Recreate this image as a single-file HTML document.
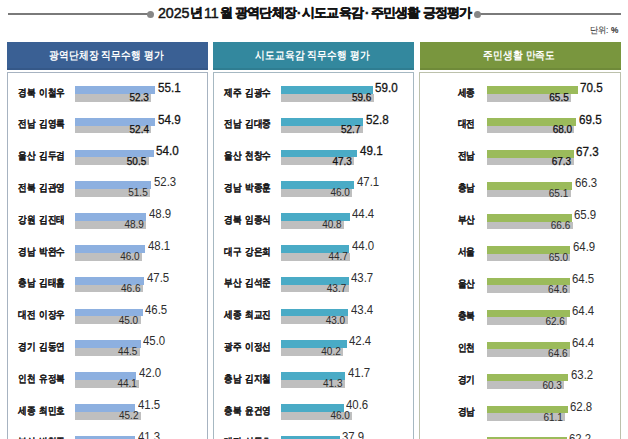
<!DOCTYPE html><html><head><meta charset="utf-8"><style>
*{margin:0;padding:0;box-sizing:border-box}
html,body{width:628px;height:439px;overflow:hidden;background:#fff}
body{position:relative;font-family:"Liberation Sans",sans-serif;color:#222}
.a{position:absolute;white-space:nowrap}
.ln{position:absolute;height:2px;background:#7A7A7A}
.dot{position:absolute;width:7.2px;height:7.2px;border-radius:50%;background:#878787}
.tt{position:absolute;white-space:nowrap;font-weight:bold;color:#141414}
.unit{position:absolute;font-size:9px;line-height:10px;color:#444;letter-spacing:-0.2px;white-space:nowrap}
.hd{position:absolute;top:41.8px;height:27.8px;box-shadow:inset 0 -2px 0 rgba(0,0,0,0.08);color:#fff;font-weight:bold;line-height:27px;text-align:center;white-space:nowrap}
.box{position:absolute;top:71.9px;height:400px;border-style:solid;background:#fff}
.b1,.b2{position:absolute}
.b2{background:#BFBFBF}
.lab{position:absolute;font-weight:bold;color:#1a1a1a;white-space:nowrap}
.v1{position:absolute;white-space:nowrap}
.v2{position:absolute;white-space:nowrap;text-align:right}
</style></head><body>
<div class="ln" style="left:8px;top:13px;width:143px"></div>
<div class="ln" style="left:478px;top:13px;width:142.5px"></div>
<div class="dot" style="left:147px;top:10.7px"></div>
<div class="dot" style="left:474.2px;top:10.7px"></div>
<div class="tt" style="left:158px;top:5.1px;font-size:15.5px;line-height:15.5px;letter-spacing:-0.1px;font-weight:normal;transform:scaleX(0.92);transform-origin:left;-webkit-text-stroke:0.5px #141414">2025</div>
<div class="tt" style="left:190px;top:6px;font-size:13px;line-height:13px;letter-spacing:0px;font-weight:bold;transform:scaleX(1);transform-origin:left;-webkit-text-stroke:0.45px #141414">년</div>
<div class="tt" style="left:204px;top:5.1px;font-size:15.5px;line-height:15.5px;letter-spacing:-0.1px;font-weight:normal;transform:scaleX(0.92);transform-origin:left;-webkit-text-stroke:0.5px #141414">11</div>
<div class="tt" style="left:219.5px;top:6px;font-size:13px;line-height:13px;letter-spacing:0px;font-weight:bold;transform:scaleX(1);transform-origin:left;-webkit-text-stroke:0.45px #141414">월</div>
<div class="tt" style="left:235px;top:6px;font-size:13px;line-height:13px;letter-spacing:-0.8px;font-weight:bold;transform:scaleX(1);transform-origin:left;-webkit-text-stroke:0.45px #141414">광역단체장</div>
<div class="tt" style="left:297px;top:6px;font-size:13px;line-height:13px;letter-spacing:0px;font-weight:bold;transform:scaleX(1);transform-origin:left;-webkit-text-stroke:0.45px #141414">·</div>
<div class="tt" style="left:302px;top:6px;font-size:13px;line-height:13px;letter-spacing:-0.8px;font-weight:bold;transform:scaleX(1);transform-origin:left;-webkit-text-stroke:0.45px #141414">시도교육감</div>
<div class="tt" style="left:365px;top:6px;font-size:13px;line-height:13px;letter-spacing:0px;font-weight:bold;transform:scaleX(1);transform-origin:left;-webkit-text-stroke:0.45px #141414">·</div>
<div class="tt" style="left:370.5px;top:6px;font-size:13px;line-height:13px;letter-spacing:-0.8px;font-weight:bold;transform:scaleX(1);transform-origin:left;-webkit-text-stroke:0.45px #141414">주민생활</div>
<div class="tt" style="left:422.5px;top:6px;font-size:13px;line-height:13px;letter-spacing:-0.8px;font-weight:bold;transform:scaleX(1);transform-origin:left;-webkit-text-stroke:0.45px #141414">긍정평가</div>
<div class="unit" style="left:590px;top:25.3px;font-size:9px;letter-spacing:-0.3px;color:#3a3a3a;-webkit-text-stroke:0.1px #3a3a3a;transform:scaleX(0.92);transform-origin:left;word-spacing:1.0px">단위: <b>%</b></div>
<div class="hd" style="left:7px;width:200.6px;background:#3A6094;font-size:10.5px;letter-spacing:0.3px;padding-right:2.6px;line-height:26px"><span style="display:inline-block;transform:scaleX(0.88);-webkit-text-stroke:0px #fff">광역단체장 직무수행 평가</span></div>
<div class="box" style="left:6.6px;width:201.4px;border-width:1.7px;border-color:#A7B3C1"></div>
<div class="hd" style="left:213.3px;width:200.7px;background:#33889E;font-size:10.5px;letter-spacing:0.3px;padding-right:2.6px;line-height:26px"><span style="display:inline-block;transform:scaleX(0.88);-webkit-text-stroke:0px #fff">시도교육감 직무수행 평가</span></div>
<div class="box" style="left:212.9px;width:201.5px;border-width:1.7px;border-color:#A6B8C2"></div>
<div class="hd" style="left:419.5px;width:201px;background:#79963E;font-size:10.5px;letter-spacing:0.3px;padding-right:2.6px;line-height:26px"><span style="display:inline-block;transform:scaleX(0.88);-webkit-text-stroke:0px #fff">주민생활 만족도</span></div>
<div class="box" style="left:419.1px;width:201.8px;border-width:1.7px;border-color:#BCC1AC"></div>
<div class="b1" style="left:75px;top:86px;width:80.38px;height:7.75px;background:#8DB0E0"></div>
<div class="b2" style="left:75px;top:93.75px;width:76.27px;height:7.75px"></div>
<div class="lab" style="left:18px;top:87.5px;font-size:9.6px;line-height:9.6px;letter-spacing:0.0px;word-spacing:2.0px;transform:scaleX(0.86);-webkit-text-stroke:0.1px #1a1a1a;transform-origin:left">경북 이철우</div>
<div class="v1" style="left:157.98px;top:81.8px;font-size:12px;line-height:12px;color:#151515;-webkit-text-stroke:0.3px #151515;letter-spacing:0px;transform:scaleX(0.97);transform-origin:left">55.1</div>
<div class="v2" style="right:479.13px;top:93px;font-size:10px;line-height:10px;color:#111;-webkit-text-stroke:0.25px #111;letter-spacing:0px;transform:scaleX(1.0);transform-origin:right">52.3</div>
<div class="b1" style="left:75px;top:117.8px;width:80.09px;height:7.75px;background:#8DB0E0"></div>
<div class="b2" style="left:75px;top:125.55px;width:76.42px;height:7.75px"></div>
<div class="lab" style="left:18px;top:119.3px;font-size:9.6px;line-height:9.6px;letter-spacing:0.0px;word-spacing:2.0px;transform:scaleX(0.86);-webkit-text-stroke:0.1px #1a1a1a;transform-origin:left">전남 김영록</div>
<div class="v1" style="left:157.69px;top:113.6px;font-size:12px;line-height:12px;color:#151515;-webkit-text-stroke:0.3px #151515;letter-spacing:0px;transform:scaleX(0.97);transform-origin:left">54.9</div>
<div class="v2" style="right:478.98px;top:124.8px;font-size:10px;line-height:10px;color:#111;-webkit-text-stroke:0.25px #111;letter-spacing:0px;transform:scaleX(1.0);transform-origin:right">52.4</div>
<div class="b1" style="left:75px;top:149.6px;width:78.77px;height:7.75px;background:#8DB0E0"></div>
<div class="b2" style="left:75px;top:157.35px;width:73.63px;height:7.75px"></div>
<div class="lab" style="left:18px;top:151.1px;font-size:9.6px;line-height:9.6px;letter-spacing:0.0px;word-spacing:2.0px;transform:scaleX(0.86);-webkit-text-stroke:0.1px #1a1a1a;transform-origin:left">울산 김두겸</div>
<div class="v1" style="left:156.37px;top:145.4px;font-size:12px;line-height:12px;color:#151515;-webkit-text-stroke:0.3px #151515;letter-spacing:0px;transform:scaleX(0.97);transform-origin:left">54.0</div>
<div class="v2" style="right:481.77px;top:156.6px;font-size:10px;line-height:10px;color:#111;-webkit-text-stroke:0.25px #111;letter-spacing:0px;transform:scaleX(1.0);transform-origin:right">50.5</div>
<div class="b1" style="left:75px;top:181.4px;width:76.27px;height:7.75px;background:#8DB0E0"></div>
<div class="b2" style="left:75px;top:189.15px;width:75.1px;height:7.75px"></div>
<div class="lab" style="left:18px;top:182.9px;font-size:9.6px;line-height:9.6px;letter-spacing:0.0px;word-spacing:2.0px;transform:scaleX(0.86);-webkit-text-stroke:0.1px #1a1a1a;transform-origin:left">전북 김관영</div>
<div class="v1" style="left:153.87px;top:176.4px;font-size:12px;line-height:12px;color:#2e2e2e;-webkit-text-stroke:0px #2e2e2e;letter-spacing:0px;transform:scaleX(0.95);transform-origin:left">52.3</div>
<div class="v2" style="right:480.3px;top:188.4px;font-size:10px;line-height:10px;color:#2c2c2c;-webkit-text-stroke:0px #2c2c2c;letter-spacing:0px;transform:scaleX(1.0);transform-origin:right">51.5</div>
<div class="b1" style="left:75px;top:213.2px;width:71.28px;height:7.75px;background:#8DB0E0"></div>
<div class="b2" style="left:75px;top:220.95px;width:71.28px;height:7.75px"></div>
<div class="lab" style="left:18px;top:214.7px;font-size:9.6px;line-height:9.6px;letter-spacing:0.0px;word-spacing:2.0px;transform:scaleX(0.86);-webkit-text-stroke:0.1px #1a1a1a;transform-origin:left">강원 김진태</div>
<div class="v1" style="left:148.88px;top:208.2px;font-size:12px;line-height:12px;color:#2e2e2e;-webkit-text-stroke:0px #2e2e2e;letter-spacing:0px;transform:scaleX(0.95);transform-origin:left">48.9</div>
<div class="v2" style="right:484.12px;top:220.2px;font-size:10px;line-height:10px;color:#2c2c2c;-webkit-text-stroke:0px #2c2c2c;letter-spacing:0px;transform:scaleX(1.0);transform-origin:right">48.9</div>
<div class="b1" style="left:75px;top:245px;width:70.11px;height:7.75px;background:#8DB0E0"></div>
<div class="b2" style="left:75px;top:252.75px;width:67.02px;height:7.75px"></div>
<div class="lab" style="left:18px;top:246.5px;font-size:9.6px;line-height:9.6px;letter-spacing:0.0px;word-spacing:2.0px;transform:scaleX(0.86);-webkit-text-stroke:0.1px #1a1a1a;transform-origin:left">경남 박완수</div>
<div class="v1" style="left:147.71px;top:240px;font-size:12px;line-height:12px;color:#2e2e2e;-webkit-text-stroke:0px #2e2e2e;letter-spacing:0px;transform:scaleX(0.95);transform-origin:left">48.1</div>
<div class="v2" style="right:488.38px;top:252px;font-size:10px;line-height:10px;color:#2c2c2c;-webkit-text-stroke:0px #2c2c2c;letter-spacing:0px;transform:scaleX(1.0);transform-origin:right">46.0</div>
<div class="b1" style="left:75px;top:276.8px;width:69.22px;height:7.75px;background:#8DB0E0"></div>
<div class="b2" style="left:75px;top:284.55px;width:67.9px;height:7.75px"></div>
<div class="lab" style="left:18px;top:278.3px;font-size:9.6px;line-height:9.6px;letter-spacing:0.0px;word-spacing:2.0px;transform:scaleX(0.86);-webkit-text-stroke:0.1px #1a1a1a;transform-origin:left">충남 김태흠</div>
<div class="v1" style="left:146.82px;top:271.8px;font-size:12px;line-height:12px;color:#2e2e2e;-webkit-text-stroke:0px #2e2e2e;letter-spacing:0px;transform:scaleX(0.95);transform-origin:left">47.5</div>
<div class="v2" style="right:487.5px;top:283.8px;font-size:10px;line-height:10px;color:#2c2c2c;-webkit-text-stroke:0px #2c2c2c;letter-spacing:0px;transform:scaleX(1.0);transform-origin:right">46.6</div>
<div class="b1" style="left:75px;top:308.6px;width:67.76px;height:7.75px;background:#8DB0E0"></div>
<div class="b2" style="left:75px;top:316.35px;width:65.55px;height:7.75px"></div>
<div class="lab" style="left:18px;top:310.1px;font-size:9.6px;line-height:9.6px;letter-spacing:0.0px;word-spacing:2.0px;transform:scaleX(0.86);-webkit-text-stroke:0.1px #1a1a1a;transform-origin:left">대전 이장우</div>
<div class="v1" style="left:145.36px;top:303.6px;font-size:12px;line-height:12px;color:#2e2e2e;-webkit-text-stroke:0px #2e2e2e;letter-spacing:0px;transform:scaleX(0.95);transform-origin:left">46.5</div>
<div class="v2" style="right:489.85px;top:315.6px;font-size:10px;line-height:10px;color:#2c2c2c;-webkit-text-stroke:0px #2c2c2c;letter-spacing:0px;transform:scaleX(1.0);transform-origin:right">45.0</div>
<div class="b1" style="left:75px;top:340.4px;width:65.55px;height:7.75px;background:#8DB0E0"></div>
<div class="b2" style="left:75px;top:348.15px;width:64.82px;height:7.75px"></div>
<div class="lab" style="left:18px;top:341.9px;font-size:9.6px;line-height:9.6px;letter-spacing:0.0px;word-spacing:2.0px;transform:scaleX(0.86);-webkit-text-stroke:0.1px #1a1a1a;transform-origin:left">경기 김동연</div>
<div class="v1" style="left:143.15px;top:335.4px;font-size:12px;line-height:12px;color:#2e2e2e;-webkit-text-stroke:0px #2e2e2e;letter-spacing:0px;transform:scaleX(0.95);transform-origin:left">45.0</div>
<div class="v2" style="right:490.58px;top:347.4px;font-size:10px;line-height:10px;color:#2c2c2c;-webkit-text-stroke:0px #2c2c2c;letter-spacing:0px;transform:scaleX(1.0);transform-origin:right">44.5</div>
<div class="b1" style="left:75px;top:372.2px;width:61.15px;height:7.75px;background:#8DB0E0"></div>
<div class="b2" style="left:75px;top:379.95px;width:64.23px;height:7.75px"></div>
<div class="lab" style="left:18px;top:373.7px;font-size:9.6px;line-height:9.6px;letter-spacing:0.0px;word-spacing:2.0px;transform:scaleX(0.86);-webkit-text-stroke:0.1px #1a1a1a;transform-origin:left">인천 유정복</div>
<div class="v1" style="left:138.75px;top:367.2px;font-size:12px;line-height:12px;color:#2e2e2e;-webkit-text-stroke:0px #2e2e2e;letter-spacing:0px;transform:scaleX(0.95);transform-origin:left">42.0</div>
<div class="v2" style="right:491.17px;top:379.2px;font-size:10px;line-height:10px;color:#2c2c2c;-webkit-text-stroke:0px #2c2c2c;letter-spacing:0px;transform:scaleX(1.0);transform-origin:right">44.1</div>
<div class="b1" style="left:75px;top:404px;width:60.41px;height:7.75px;background:#8DB0E0"></div>
<div class="b2" style="left:75px;top:411.75px;width:65.85px;height:7.75px"></div>
<div class="lab" style="left:18px;top:405.5px;font-size:9.6px;line-height:9.6px;letter-spacing:0.0px;word-spacing:2.0px;transform:scaleX(0.86);-webkit-text-stroke:0.1px #1a1a1a;transform-origin:left">세종 최민호</div>
<div class="v1" style="left:138.01px;top:399px;font-size:12px;line-height:12px;color:#2e2e2e;-webkit-text-stroke:0px #2e2e2e;letter-spacing:0px;transform:scaleX(0.95);transform-origin:left">41.5</div>
<div class="v2" style="right:489.55px;top:411px;font-size:10px;line-height:10px;color:#2c2c2c;-webkit-text-stroke:0px #2c2c2c;letter-spacing:0px;transform:scaleX(1.0);transform-origin:right">45.2</div>
<div class="b1" style="left:75px;top:435.8px;width:60.12px;height:7.75px;background:#8DB0E0"></div>
<div class="b2" style="left:75px;top:443.55px;width:64.09px;height:7.75px"></div>
<div class="lab" style="left:18px;top:437.3px;font-size:9.6px;line-height:9.6px;letter-spacing:0.0px;word-spacing:2.0px;transform:scaleX(0.86);-webkit-text-stroke:0.1px #1a1a1a;transform-origin:left">부산 박형준</div>
<div class="v1" style="left:137.72px;top:430.8px;font-size:12px;line-height:12px;color:#2e2e2e;-webkit-text-stroke:0px #2e2e2e;letter-spacing:0px;transform:scaleX(0.95);transform-origin:left">41.3</div>
<div class="v2" style="right:491.31px;top:442.8px;font-size:10px;line-height:10px;color:#2c2c2c;-webkit-text-stroke:0px #2c2c2c;letter-spacing:0px;transform:scaleX(1.0);transform-origin:right">44.0</div>
<div class="b1" style="left:281px;top:86px;width:91.79px;height:7.75px;background:#4AABC6"></div>
<div class="b2" style="left:281px;top:93.75px;width:92.74px;height:7.75px"></div>
<div class="lab" style="left:224.3px;top:87.5px;font-size:9.6px;line-height:9.6px;letter-spacing:0.0px;word-spacing:2.0px;transform:scaleX(0.86);-webkit-text-stroke:0.1px #1a1a1a;transform-origin:left">제주 김광수</div>
<div class="v1" style="left:375.39px;top:81.8px;font-size:12px;line-height:12px;color:#151515;-webkit-text-stroke:0.3px #151515;letter-spacing:0px;transform:scaleX(0.97);transform-origin:left">59.0</div>
<div class="v2" style="right:256.66px;top:93px;font-size:10px;line-height:10px;color:#111;-webkit-text-stroke:0.25px #111;letter-spacing:0px;transform:scaleX(1.0);transform-origin:right">59.6</div>
<div class="b1" style="left:281px;top:117.8px;width:82.01px;height:7.75px;background:#4AABC6"></div>
<div class="b2" style="left:281px;top:125.55px;width:81.85px;height:7.75px"></div>
<div class="lab" style="left:224.3px;top:119.3px;font-size:9.6px;line-height:9.6px;letter-spacing:0.0px;word-spacing:2.0px;transform:scaleX(0.86);-webkit-text-stroke:0.1px #1a1a1a;transform-origin:left">전남 김대중</div>
<div class="v1" style="left:365.61px;top:113.6px;font-size:12px;line-height:12px;color:#151515;-webkit-text-stroke:0.3px #151515;letter-spacing:0px;transform:scaleX(0.97);transform-origin:left">52.8</div>
<div class="v2" style="right:267.55px;top:124.8px;font-size:10px;line-height:10px;color:#111;-webkit-text-stroke:0.25px #111;letter-spacing:0px;transform:scaleX(1.0);transform-origin:right">52.7</div>
<div class="b1" style="left:281px;top:149.6px;width:76.17px;height:7.75px;background:#4AABC6"></div>
<div class="b2" style="left:281px;top:157.35px;width:73.33px;height:7.75px"></div>
<div class="lab" style="left:224.3px;top:151.1px;font-size:9.6px;line-height:9.6px;letter-spacing:0.0px;word-spacing:2.0px;transform:scaleX(0.86);-webkit-text-stroke:0.1px #1a1a1a;transform-origin:left">울산 천창수</div>
<div class="v1" style="left:359.77px;top:145.4px;font-size:12px;line-height:12px;color:#151515;-webkit-text-stroke:0.3px #151515;letter-spacing:0px;transform:scaleX(0.97);transform-origin:left">49.1</div>
<div class="v2" style="right:276.07px;top:156.6px;font-size:10px;line-height:10px;color:#111;-webkit-text-stroke:0.25px #111;letter-spacing:0px;transform:scaleX(1.0);transform-origin:right">47.3</div>
<div class="b1" style="left:281px;top:181.4px;width:73.01px;height:7.75px;background:#4AABC6"></div>
<div class="b2" style="left:281px;top:189.15px;width:71.28px;height:7.75px"></div>
<div class="lab" style="left:224.3px;top:182.9px;font-size:9.6px;line-height:9.6px;letter-spacing:0.0px;word-spacing:2.0px;transform:scaleX(0.86);-webkit-text-stroke:0.1px #1a1a1a;transform-origin:left">경남 박종훈</div>
<div class="v1" style="left:356.61px;top:176.4px;font-size:12px;line-height:12px;color:#2e2e2e;-webkit-text-stroke:0px #2e2e2e;letter-spacing:0px;transform:scaleX(0.95);transform-origin:left">47.1</div>
<div class="v2" style="right:278.12px;top:188.4px;font-size:10px;line-height:10px;color:#2c2c2c;-webkit-text-stroke:0px #2c2c2c;letter-spacing:0px;transform:scaleX(1.0);transform-origin:right">46.0</div>
<div class="b1" style="left:281px;top:213.2px;width:68.75px;height:7.75px;background:#4AABC6"></div>
<div class="b2" style="left:281px;top:220.95px;width:63.07px;height:7.75px"></div>
<div class="lab" style="left:224.3px;top:214.7px;font-size:9.6px;line-height:9.6px;letter-spacing:0.0px;word-spacing:2.0px;transform:scaleX(0.86);-webkit-text-stroke:0.1px #1a1a1a;transform-origin:left">경북 임종식</div>
<div class="v1" style="left:352.35px;top:208.2px;font-size:12px;line-height:12px;color:#2e2e2e;-webkit-text-stroke:0px #2e2e2e;letter-spacing:0px;transform:scaleX(0.95);transform-origin:left">44.4</div>
<div class="v2" style="right:286.33px;top:220.2px;font-size:10px;line-height:10px;color:#2c2c2c;-webkit-text-stroke:0px #2c2c2c;letter-spacing:0px;transform:scaleX(1.0);transform-origin:right">40.8</div>
<div class="b1" style="left:281px;top:245px;width:68.12px;height:7.75px;background:#4AABC6"></div>
<div class="b2" style="left:281px;top:252.75px;width:69.23px;height:7.75px"></div>
<div class="lab" style="left:224.3px;top:246.5px;font-size:9.6px;line-height:9.6px;letter-spacing:0.0px;word-spacing:2.0px;transform:scaleX(0.86);-webkit-text-stroke:0.1px #1a1a1a;transform-origin:left">대구 강은희</div>
<div class="v1" style="left:351.72px;top:240px;font-size:12px;line-height:12px;color:#2e2e2e;-webkit-text-stroke:0px #2e2e2e;letter-spacing:0px;transform:scaleX(0.95);transform-origin:left">44.0</div>
<div class="v2" style="right:280.17px;top:252px;font-size:10px;line-height:10px;color:#2c2c2c;-webkit-text-stroke:0px #2c2c2c;letter-spacing:0px;transform:scaleX(1.0);transform-origin:right">44.7</div>
<div class="b1" style="left:281px;top:276.8px;width:67.65px;height:7.75px;background:#4AABC6"></div>
<div class="b2" style="left:281px;top:284.55px;width:67.65px;height:7.75px"></div>
<div class="lab" style="left:224.3px;top:278.3px;font-size:9.6px;line-height:9.6px;letter-spacing:0.0px;word-spacing:2.0px;transform:scaleX(0.86);-webkit-text-stroke:0.1px #1a1a1a;transform-origin:left">부산 김석준</div>
<div class="v1" style="left:351.25px;top:271.8px;font-size:12px;line-height:12px;color:#2e2e2e;-webkit-text-stroke:0px #2e2e2e;letter-spacing:0px;transform:scaleX(0.95);transform-origin:left">43.7</div>
<div class="v2" style="right:281.75px;top:283.8px;font-size:10px;line-height:10px;color:#2c2c2c;-webkit-text-stroke:0px #2c2c2c;letter-spacing:0px;transform:scaleX(1.0);transform-origin:right">43.7</div>
<div class="b1" style="left:281px;top:308.6px;width:67.18px;height:7.75px;background:#4AABC6"></div>
<div class="b2" style="left:281px;top:316.35px;width:66.55px;height:7.75px"></div>
<div class="lab" style="left:224.3px;top:310.1px;font-size:9.6px;line-height:9.6px;letter-spacing:0.0px;word-spacing:2.0px;transform:scaleX(0.86);-webkit-text-stroke:0.1px #1a1a1a;transform-origin:left">세종 최교진</div>
<div class="v1" style="left:350.78px;top:303.6px;font-size:12px;line-height:12px;color:#2e2e2e;-webkit-text-stroke:0px #2e2e2e;letter-spacing:0px;transform:scaleX(0.95);transform-origin:left">43.4</div>
<div class="v2" style="right:282.85px;top:315.6px;font-size:10px;line-height:10px;color:#2c2c2c;-webkit-text-stroke:0px #2c2c2c;letter-spacing:0px;transform:scaleX(1.0);transform-origin:right">43.0</div>
<div class="b1" style="left:281px;top:340.4px;width:65.6px;height:7.75px;background:#4AABC6"></div>
<div class="b2" style="left:281px;top:348.15px;width:62.13px;height:7.75px"></div>
<div class="lab" style="left:224.3px;top:341.9px;font-size:9.6px;line-height:9.6px;letter-spacing:0.0px;word-spacing:2.0px;transform:scaleX(0.86);-webkit-text-stroke:0.1px #1a1a1a;transform-origin:left">광주 이정선</div>
<div class="v1" style="left:349.2px;top:335.4px;font-size:12px;line-height:12px;color:#2e2e2e;-webkit-text-stroke:0px #2e2e2e;letter-spacing:0px;transform:scaleX(0.95);transform-origin:left">42.4</div>
<div class="v2" style="right:287.27px;top:347.4px;font-size:10px;line-height:10px;color:#2c2c2c;-webkit-text-stroke:0px #2c2c2c;letter-spacing:0px;transform:scaleX(1.0);transform-origin:right">40.2</div>
<div class="b1" style="left:281px;top:372.2px;width:64.49px;height:7.75px;background:#4AABC6"></div>
<div class="b2" style="left:281px;top:379.95px;width:63.86px;height:7.75px"></div>
<div class="lab" style="left:224.3px;top:373.7px;font-size:9.6px;line-height:9.6px;letter-spacing:0.0px;word-spacing:2.0px;transform:scaleX(0.86);-webkit-text-stroke:0.1px #1a1a1a;transform-origin:left">충남 김지철</div>
<div class="v1" style="left:348.09px;top:367.2px;font-size:12px;line-height:12px;color:#2e2e2e;-webkit-text-stroke:0px #2e2e2e;letter-spacing:0px;transform:scaleX(0.95);transform-origin:left">41.7</div>
<div class="v2" style="right:285.54px;top:379.2px;font-size:10px;line-height:10px;color:#2c2c2c;-webkit-text-stroke:0px #2c2c2c;letter-spacing:0px;transform:scaleX(1.0);transform-origin:right">41.3</div>
<div class="b1" style="left:281px;top:404px;width:62.76px;height:7.75px;background:#4AABC6"></div>
<div class="b2" style="left:281px;top:411.75px;width:71.28px;height:7.75px"></div>
<div class="lab" style="left:224.3px;top:405.5px;font-size:9.6px;line-height:9.6px;letter-spacing:0.0px;word-spacing:2.0px;transform:scaleX(0.86);-webkit-text-stroke:0.1px #1a1a1a;transform-origin:left">충북 윤건영</div>
<div class="v1" style="left:346.36px;top:399px;font-size:12px;line-height:12px;color:#2e2e2e;-webkit-text-stroke:0px #2e2e2e;letter-spacing:0px;transform:scaleX(0.95);transform-origin:left">40.6</div>
<div class="v2" style="right:278.12px;top:411px;font-size:10px;line-height:10px;color:#2c2c2c;-webkit-text-stroke:0px #2c2c2c;letter-spacing:0px;transform:scaleX(1.0);transform-origin:right">46.0</div>
<div class="b1" style="left:281px;top:435.8px;width:58.5px;height:7.75px;background:#4AABC6"></div>
<div class="b2" style="left:281px;top:443.55px;width:61.81px;height:7.75px"></div>
<div class="lab" style="left:224.3px;top:437.3px;font-size:9.6px;line-height:9.6px;letter-spacing:0.0px;word-spacing:2.0px;transform:scaleX(0.86);-webkit-text-stroke:0.1px #1a1a1a;transform-origin:left">대전 설동호</div>
<div class="v1" style="left:342.1px;top:430.8px;font-size:12px;line-height:12px;color:#2e2e2e;-webkit-text-stroke:0px #2e2e2e;letter-spacing:0px;transform:scaleX(0.95);transform-origin:left">37.9</div>
<div class="v2" style="right:287.59px;top:442.8px;font-size:10px;line-height:10px;color:#2c2c2c;-webkit-text-stroke:0px #2c2c2c;letter-spacing:0px;transform:scaleX(1.0);transform-origin:right">40.0</div>
<div class="b1" style="left:486.7px;top:86px;width:91.1px;height:7.75px;background:#9BBB5B"></div>
<div class="b2" style="left:486.7px;top:93.75px;width:84.47px;height:7.75px"></div>
<div class="lab" style="right:153.3px;top:87.5px;font-size:9.6px;line-height:9.6px;letter-spacing:0.0px;word-spacing:2.0px;transform:scaleX(0.86);-webkit-text-stroke:0.1px #1a1a1a;transform-origin:right">세종</div>
<div class="v1" style="left:580.4px;top:82.1px;font-size:12px;line-height:12px;color:#151515;-webkit-text-stroke:0.3px #151515;letter-spacing:0px;transform:scaleX(0.97);transform-origin:left">70.5</div>
<div class="v2" style="right:59.23px;top:93px;font-size:10px;line-height:10px;color:#111;-webkit-text-stroke:0.25px #111;letter-spacing:0px;transform:scaleX(1.0);transform-origin:right">65.5</div>
<div class="b1" style="left:486.7px;top:117.95px;width:89.77px;height:7.75px;background:#9BBB5B"></div>
<div class="b2" style="left:486.7px;top:125.7px;width:87.78px;height:7.75px"></div>
<div class="lab" style="right:153.3px;top:119.45px;font-size:9.6px;line-height:9.6px;letter-spacing:0.0px;word-spacing:2.0px;transform:scaleX(0.86);-webkit-text-stroke:0.1px #1a1a1a;transform-origin:right">대전</div>
<div class="v1" style="left:579.07px;top:114.05px;font-size:12px;line-height:12px;color:#151515;-webkit-text-stroke:0.3px #151515;letter-spacing:0px;transform:scaleX(0.97);transform-origin:left">69.5</div>
<div class="v2" style="right:55.92px;top:124.95px;font-size:10px;line-height:10px;color:#111;-webkit-text-stroke:0.25px #111;letter-spacing:0px;transform:scaleX(1.0);transform-origin:right">68.0</div>
<div class="b1" style="left:486.7px;top:149.9px;width:86.85px;height:7.75px;background:#9BBB5B"></div>
<div class="b2" style="left:486.7px;top:157.65px;width:86.85px;height:7.75px"></div>
<div class="lab" style="right:153.3px;top:151.4px;font-size:9.6px;line-height:9.6px;letter-spacing:0.0px;word-spacing:2.0px;transform:scaleX(0.86);-webkit-text-stroke:0.1px #1a1a1a;transform-origin:right">전남</div>
<div class="v1" style="left:576.15px;top:146px;font-size:12px;line-height:12px;color:#151515;-webkit-text-stroke:0.3px #151515;letter-spacing:0px;transform:scaleX(0.97);transform-origin:left">67.3</div>
<div class="v2" style="right:56.85px;top:156.9px;font-size:10px;line-height:10px;color:#111;-webkit-text-stroke:0.25px #111;letter-spacing:0px;transform:scaleX(1.0);transform-origin:right">67.3</div>
<div class="b1" style="left:486.7px;top:181.85px;width:85.53px;height:7.75px;background:#9BBB5B"></div>
<div class="b2" style="left:486.7px;top:189.6px;width:83.93px;height:7.75px"></div>
<div class="lab" style="right:153.3px;top:183.35px;font-size:9.6px;line-height:9.6px;letter-spacing:0.0px;word-spacing:2.0px;transform:scaleX(0.86);-webkit-text-stroke:0.1px #1a1a1a;transform-origin:right">충남</div>
<div class="v1" style="left:574.83px;top:177.15px;font-size:12px;line-height:12px;color:#2e2e2e;-webkit-text-stroke:0px #2e2e2e;letter-spacing:0px;transform:scaleX(0.95);transform-origin:left">66.3</div>
<div class="v2" style="right:59.77px;top:188.85px;font-size:10px;line-height:10px;color:#2c2c2c;-webkit-text-stroke:0px #2c2c2c;letter-spacing:0px;transform:scaleX(1.0);transform-origin:right">65.1</div>
<div class="b1" style="left:486.7px;top:213.8px;width:85px;height:7.75px;background:#9BBB5B"></div>
<div class="b2" style="left:486.7px;top:221.55px;width:85.92px;height:7.75px"></div>
<div class="lab" style="right:153.3px;top:215.3px;font-size:9.6px;line-height:9.6px;letter-spacing:0.0px;word-spacing:2.0px;transform:scaleX(0.86);-webkit-text-stroke:0.1px #1a1a1a;transform-origin:right">부산</div>
<div class="v1" style="left:574.3px;top:209.1px;font-size:12px;line-height:12px;color:#2e2e2e;-webkit-text-stroke:0px #2e2e2e;letter-spacing:0px;transform:scaleX(0.95);transform-origin:left">65.9</div>
<div class="v2" style="right:57.78px;top:220.8px;font-size:10px;line-height:10px;color:#2c2c2c;-webkit-text-stroke:0px #2c2c2c;letter-spacing:0px;transform:scaleX(1.0);transform-origin:right">66.6</div>
<div class="b1" style="left:486.7px;top:245.75px;width:83.67px;height:7.75px;background:#9BBB5B"></div>
<div class="b2" style="left:486.7px;top:253.5px;width:83.8px;height:7.75px"></div>
<div class="lab" style="right:153.3px;top:247.25px;font-size:9.6px;line-height:9.6px;letter-spacing:0.0px;word-spacing:2.0px;transform:scaleX(0.86);-webkit-text-stroke:0.1px #1a1a1a;transform-origin:right">서울</div>
<div class="v1" style="left:572.97px;top:241.05px;font-size:12px;line-height:12px;color:#2e2e2e;-webkit-text-stroke:0px #2e2e2e;letter-spacing:0px;transform:scaleX(0.95);transform-origin:left">64.9</div>
<div class="v2" style="right:59.9px;top:252.75px;font-size:10px;line-height:10px;color:#2c2c2c;-webkit-text-stroke:0px #2c2c2c;letter-spacing:0px;transform:scaleX(1.0);transform-origin:right">65.0</div>
<div class="b1" style="left:486.7px;top:277.7px;width:83.14px;height:7.75px;background:#9BBB5B"></div>
<div class="b2" style="left:486.7px;top:285.45px;width:83.27px;height:7.75px"></div>
<div class="lab" style="right:153.3px;top:279.2px;font-size:9.6px;line-height:9.6px;letter-spacing:0.0px;word-spacing:2.0px;transform:scaleX(0.86);-webkit-text-stroke:0.1px #1a1a1a;transform-origin:right">울산</div>
<div class="v1" style="left:572.44px;top:273px;font-size:12px;line-height:12px;color:#2e2e2e;-webkit-text-stroke:0px #2e2e2e;letter-spacing:0px;transform:scaleX(0.95);transform-origin:left">64.5</div>
<div class="v2" style="right:60.43px;top:284.7px;font-size:10px;line-height:10px;color:#2c2c2c;-webkit-text-stroke:0px #2c2c2c;letter-spacing:0px;transform:scaleX(1.0);transform-origin:right">64.6</div>
<div class="b1" style="left:486.7px;top:309.65px;width:83.01px;height:7.75px;background:#9BBB5B"></div>
<div class="b2" style="left:486.7px;top:317.4px;width:80.62px;height:7.75px"></div>
<div class="lab" style="right:153.3px;top:311.15px;font-size:9.6px;line-height:9.6px;letter-spacing:0.0px;word-spacing:2.0px;transform:scaleX(0.86);-webkit-text-stroke:0.1px #1a1a1a;transform-origin:right">충북</div>
<div class="v1" style="left:572.31px;top:304.95px;font-size:12px;line-height:12px;color:#2e2e2e;-webkit-text-stroke:0px #2e2e2e;letter-spacing:0px;transform:scaleX(0.95);transform-origin:left">64.4</div>
<div class="v2" style="right:63.08px;top:316.65px;font-size:10px;line-height:10px;color:#2c2c2c;-webkit-text-stroke:0px #2c2c2c;letter-spacing:0px;transform:scaleX(1.0);transform-origin:right">62.6</div>
<div class="b1" style="left:486.7px;top:341.6px;width:83.01px;height:7.75px;background:#9BBB5B"></div>
<div class="b2" style="left:486.7px;top:349.35px;width:83.27px;height:7.75px"></div>
<div class="lab" style="right:153.3px;top:343.1px;font-size:9.6px;line-height:9.6px;letter-spacing:0.0px;word-spacing:2.0px;transform:scaleX(0.86);-webkit-text-stroke:0.1px #1a1a1a;transform-origin:right">인천</div>
<div class="v1" style="left:572.31px;top:336.9px;font-size:12px;line-height:12px;color:#2e2e2e;-webkit-text-stroke:0px #2e2e2e;letter-spacing:0px;transform:scaleX(0.95);transform-origin:left">64.4</div>
<div class="v2" style="right:60.43px;top:348.6px;font-size:10px;line-height:10px;color:#2c2c2c;-webkit-text-stroke:0px #2c2c2c;letter-spacing:0px;transform:scaleX(1.0);transform-origin:right">64.6</div>
<div class="b1" style="left:486.7px;top:373.55px;width:81.41px;height:7.75px;background:#9BBB5B"></div>
<div class="b2" style="left:486.7px;top:381.3px;width:77.57px;height:7.75px"></div>
<div class="lab" style="right:153.3px;top:375.05px;font-size:9.6px;line-height:9.6px;letter-spacing:0.0px;word-spacing:2.0px;transform:scaleX(0.86);-webkit-text-stroke:0.1px #1a1a1a;transform-origin:right">경기</div>
<div class="v1" style="left:570.71px;top:368.85px;font-size:12px;line-height:12px;color:#2e2e2e;-webkit-text-stroke:0px #2e2e2e;letter-spacing:0px;transform:scaleX(0.95);transform-origin:left">63.2</div>
<div class="v2" style="right:66.13px;top:380.55px;font-size:10px;line-height:10px;color:#2c2c2c;-webkit-text-stroke:0px #2c2c2c;letter-spacing:0px;transform:scaleX(1.0);transform-origin:right">60.3</div>
<div class="b1" style="left:486.7px;top:405.5px;width:80.88px;height:7.75px;background:#9BBB5B"></div>
<div class="b2" style="left:486.7px;top:413.25px;width:78.63px;height:7.75px"></div>
<div class="lab" style="right:153.3px;top:407px;font-size:9.6px;line-height:9.6px;letter-spacing:0.0px;word-spacing:2.0px;transform:scaleX(0.86);-webkit-text-stroke:0.1px #1a1a1a;transform-origin:right">경남</div>
<div class="v1" style="left:570.18px;top:400.8px;font-size:12px;line-height:12px;color:#2e2e2e;-webkit-text-stroke:0px #2e2e2e;letter-spacing:0px;transform:scaleX(0.95);transform-origin:left">62.8</div>
<div class="v2" style="right:65.07px;top:412.5px;font-size:10px;line-height:10px;color:#2c2c2c;-webkit-text-stroke:0px #2c2c2c;letter-spacing:0px;transform:scaleX(1.0);transform-origin:right">61.1</div>
<div class="b1" style="left:486.7px;top:437.45px;width:80.09px;height:7.75px;background:#9BBB5B"></div>
<div class="b2" style="left:486.7px;top:445.2px;width:79.82px;height:7.75px"></div>
<div class="lab" style="right:153.3px;top:438.95px;font-size:9.6px;line-height:9.6px;letter-spacing:0.0px;word-spacing:2.0px;transform:scaleX(0.86);-webkit-text-stroke:0.1px #1a1a1a;transform-origin:right">대구</div>
<div class="v1" style="left:569.39px;top:432.75px;font-size:12px;line-height:12px;color:#2e2e2e;-webkit-text-stroke:0px #2e2e2e;letter-spacing:0px;transform:scaleX(0.95);transform-origin:left">62.2</div>
<div class="v2" style="right:63.88px;top:444.45px;font-size:10px;line-height:10px;color:#2c2c2c;-webkit-text-stroke:0px #2c2c2c;letter-spacing:0px;transform:scaleX(1.0);transform-origin:right">62.0</div>
</body></html>
